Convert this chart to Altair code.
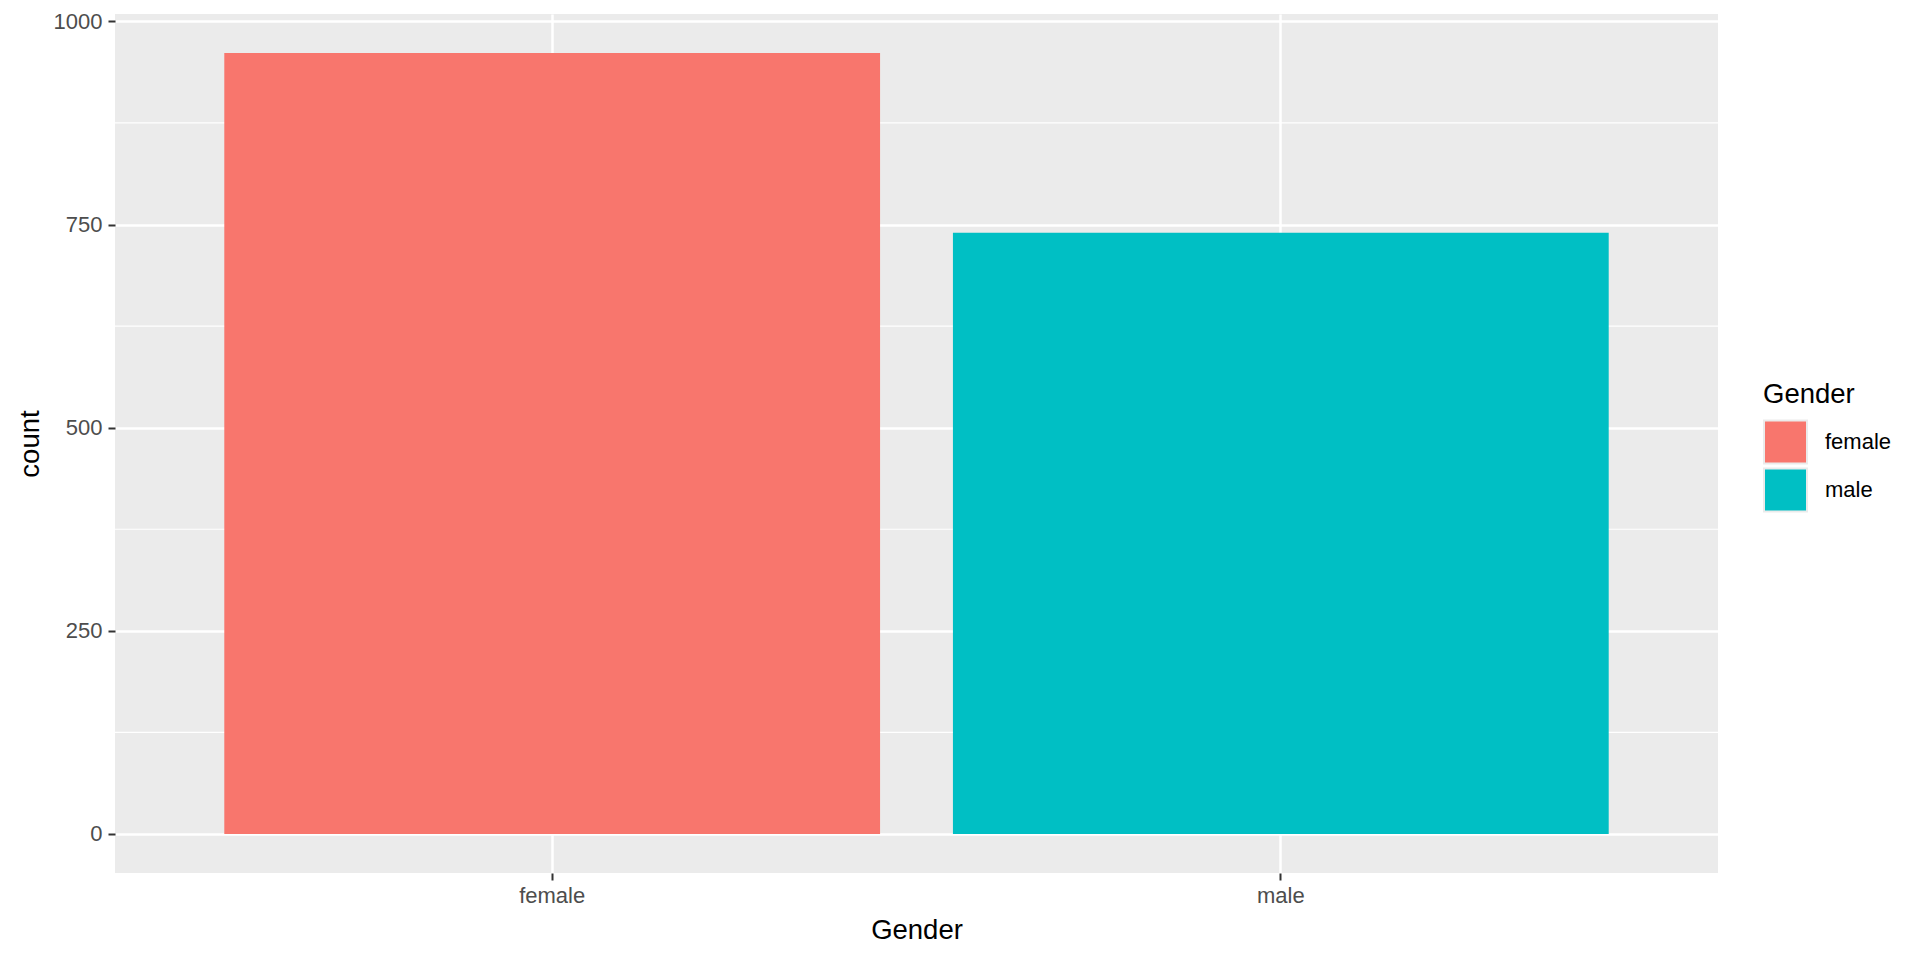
import altair as alt
import pandas as pd

genders = ["female", "male"]
counts = [961, 740]
major_breaks = [0, 250, 500, 750, 1000]
minor_breaks = [125, 375, 625, 875]
colors = ["#F8766D", "#00BFC4"]

FONT = "Liberation Sans"

df = pd.DataFrame({"Gender": genders, "count": counts})
minor_df = pd.DataFrame({"count": minor_breaks})

ymax = max(counts)
yscale = alt.Scale(domain=[-0.05 * ymax, 1.05 * ymax], nice=False, zero=False)

yaxis = alt.Axis(
    values=major_breaks, format="d", title="count", domain=False,
    grid=True, gridColor="white", gridWidth=2.5,
    tickColor="#333333", tickSize=7, tickWidth=2,
    labelColor="#4D4D4D", labelFontSize=22, labelFont=FONT, labelPadding=6,
    titleColor="black", titleFontSize=27.5, titleFont=FONT, titleFontWeight="normal",
    titlePadding=9,
)

minor = alt.Chart(minor_df).mark_rule(color="white", strokeWidth=1.2).encode(
    y=alt.Y("count:Q", scale=yscale, axis=yaxis)
)

bars = alt.Chart(df).mark_bar().encode(
    x=alt.X(
        "Gender:N",
        sort=genders,
        scale=alt.Scale(paddingInner=0.1, paddingOuter=0.15),
        axis=alt.Axis(
            title="Gender", labelAngle=0, domain=False,
            grid=True, gridColor="white", gridWidth=2.5, bandPosition=0.5,
            tickColor="#333333", tickSize=7, tickWidth=2,
            labelColor="#4D4D4D", labelFontSize=22, labelFont=FONT, labelPadding=5,
            titleColor="black", titleFontSize=27.5, titleFont=FONT, titleFontWeight="normal",
            titlePadding=10,
        ),
    ),
    y=alt.Y("count:Q", scale=yscale, axis=yaxis),
    color=alt.Color(
        "Gender:N",
        scale=alt.Scale(domain=genders, range=colors),
        legend=alt.Legend(
            orient="none", legendX=1648, legendY=367,
            title="Gender", titleFont=FONT, titleFontSize=27.5, titleColor="black",
            titleFontWeight="normal", titlePadding=11,
            labelFont=FONT, labelFontSize=22, labelColor="black", labelOffset=17,
            symbolType="square", symbolSize=1849, symbolStrokeColor="#EBEBEB",
            symbolStrokeWidth=2, symbolOpacity=1, rowPadding=-4,
        ),
    ),
)

chart = alt.layer(minor, bars).properties(
    width=1603, height=859,
    padding={"left": 107, "top": 6, "right": 194, "bottom": 75},
    autosize=alt.AutoSizeParams(type="none"),
).configure_view(fill="#EBEBEB", strokeWidth=0)

chart.save("out.html", embed_options={"renderer": "svg", "actions": False})
